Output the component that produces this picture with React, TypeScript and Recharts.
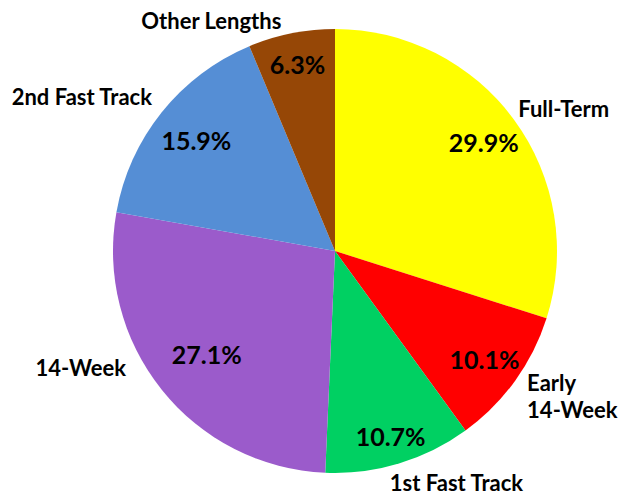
import React from "react";
import { PieChart, Pie, Cell } from "recharts";

const categories = ["Full-Term", "Early 14-Week", "1st Fast Track", "14-Week", "2nd Fast Track", "Other Lengths"];
const shares = [29.9, 10.1, 10.7, 27.1, 15.9, 6.3];
const colors = ["#FFFF00", "#FF0000", "#00D062", "#9B5BCB", "#558ED5", "#964706"];

// label styling: radial factor for the value label, and nudges for the category label
const valueLabelRadius = [0.83, 0.83, 0.87, 0.74, 0.8, 0.86];
const nameLabelNudge: [number, number][] = [[-4, 0], [4, 0], [-12, 0], [-28, -38], [-2, -4], [-8, 2]];

const data = categories.map((name, i) => ({ name, value: shares[i], idx: i }));

const RAD = Math.PI / 180;
const FONT = "Lato, 'Open Sans', sans-serif";

const renderLabel = (props: any) => {
  const { cx, cy, midAngle, outerRadius, name, value, payload } = props;
  const i = payload?.idx ?? props.index ?? 0;
  const cos = Math.cos(-midAngle * RAD);
  const sin = Math.sin(-midAngle * RAD);
  const ir = outerRadius * valueLabelRadius[i];
  const px = cx + ir * cos;
  const py = cy + ir * sin;
  const orad = outerRadius + 10;
  const [ndx, ndy] = nameLabelNudge[i];
  const ox = cx + orad * cos + ndx;
  const oy = cy + orad * sin + ndy;
  const anchor = cos >= 0 ? "start" : "end";
  const lines = name === "Early 14-Week" ? ["Early", "14-Week"] : [name];
  const lineH = 27;
  const baseY = oy + (sin > 0 ? 18 : 3) - ((lines.length - 1) * lineH) / 2;
  return (
    <g>
      <text x={px} y={py} textAnchor="middle" dominantBaseline="central" fontFamily={FONT} fontWeight={700} fontSize={25} fill="#000">
        {value.toFixed(1) + "%"}
      </text>
      <text x={ox} y={baseY} textAnchor={anchor} fontFamily={FONT} fontWeight={700} fontSize={22} fill="#000">
        {lines.map((l, k) => (
          <tspan key={k} x={ox} dy={k === 0 ? 0 : lineH}>
            {l}
          </tspan>
        ))}
      </text>
    </g>
  );
};

export default function App() {
  return (
    <div style={{ position: "absolute", left: 0, top: 0, width: 622, height: 495, background: "#fff" }}>
      <PieChart width={622} height={495} margin={{ top: 0, right: 0, bottom: 0, left: 0 }}>
        <Pie
          data={data}
          dataKey="value"
          nameKey="name"
          cx={335}
          cy={251}
          outerRadius={222}
          startAngle={90}
          endAngle={-270}
          stroke="none"
          label={renderLabel}
          labelLine={false}
          isAnimationActive={false}
        >
          {data.map((d, i) => (
            <Cell key={d.name} fill={colors[i]} />
          ))}
        </Pie>
      </PieChart>
    </div>
  );
}
